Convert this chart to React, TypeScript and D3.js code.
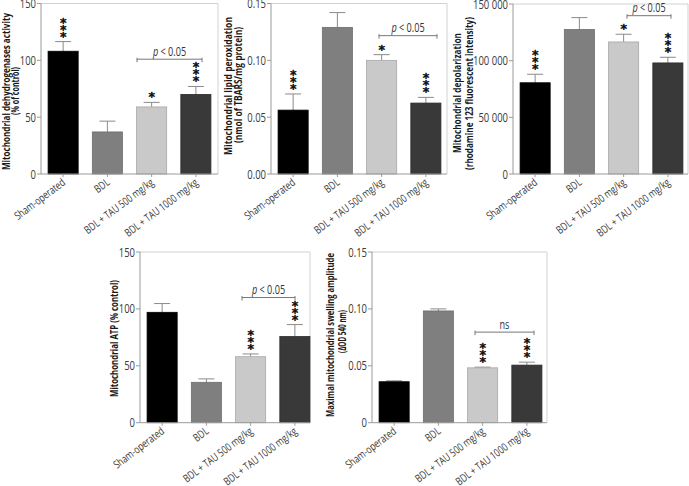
import React from "react";
import * as d3 from "d3";

const groups = ["Sham-operated", "BDL", "BDL + TAU 500 mg/kg", "BDL + TAU 1000 mg/kg"];
const barColors = ["#000000", "#7f7f7f", "#c9c9c9", "#393939"];
const barStrokes = ["#000000", "#6e6e6e", "#a8a8a8", "#2a2a2a"];

// Panel 1: dehydrogenases activity
const dehydMean = [108, 37, 59, 70];
const dehydErr = [8.5, 9.5, 4, 7];
const dehydStars = ["***", "", "*", "***"];
const dehydTicks = [0, 50, 100, 150];
// Panel 2: lipid peroxidation
const lipidMean = [0.0562, 0.129, 0.1, 0.0624];
const lipidErr = [0.0142, 0.013, 0.005, 0.005];
const lipidStars = ["***", "", "*", "***"];
const lipidTicks = [0, 0.05, 0.1, 0.15];
// Panel 3: depolarization
const depolMean = [80500, 127500, 116500, 98000];
const depolErr = [7500, 10500, 6800, 5000];
const depolStars = ["***", "", "*", "***"];
const depolTicks = [0, 50000, 100000, 150000];
// Panel 4: ATP
const atpMean = [97, 35.5, 58, 75.7];
const atpErr = [7.7, 3, 2.4, 10.5];
const atpStars = ["", "", "***", "***"];
const atpTicks = [0, 50, 100, 150];
// Panel 5: swelling
const swellMean = [0.036, 0.0982, 0.0482, 0.0506];
const swellErr = [0.0008, 0.0018, 0.0006, 0.0026];
const swellStars = ["", "", "***", "***"];
const swellTicks = [0, 0.05, 0.1, 0.15];

const fmtInt = (v: number) => (v === 0 ? "0" : String(v));
const fmt2 = (v: number) => v.toFixed(2);
const fmt2z = (v: number) => (v === 0 ? "0" : v.toFixed(2));
const fmtSpace = (v: number) => (v === 0 ? "0" : d3.format(",")(v).replace(/,/g, " "));

const FONT = "'Open Sans', 'Noto Sans', sans-serif";
const AXIS = "#9a9a9a";
const SX = 0.76;

function CText(props: { x: number; y: number; rot?: number; anchor?: string; size: number; fill?: string; weight?: string; children: React.ReactNode }) {
  const { x, y, rot = 0, anchor = "start", size, fill = "#333", weight = "normal", children } = props;
  return (
    <g transform={`translate(${x},${y}) rotate(${rot}) scale(${SX},1)`}>
      <text textAnchor={anchor} fontSize={size} fill={fill} fontWeight={weight} fontFamily={FONT}>{children}</text>
    </g>
  );
}

type Title = { text: string; x: number; y: number; len: number };

type PanelProps = {
  left: number; top: number; bottom: number; frameRight: number;
  max: number; means: number[]; errs: number[]; stars: string[]; ticks: number[];
  fmt: (v: number) => string; titles: Title[];
  bracketVal: number; bracketLabel: string; italicP: boolean; bracketX1: number; bracketX2: number;
};

function Panel(p: PanelProps) {
  const x = d3.scaleBand<string>().domain(groups).range([p.left, p.left + 177]).paddingInner(0.32).paddingOuter(0.16);
  const y = d3.scaleLinear().domain([0, p.max]).range([p.bottom, p.top]);
  const bw = x.bandwidth();
  const by = y(p.bracketVal);
  const bc = (p.bracketX1 + p.bracketX2) / 2;
  return (
    <g fontFamily={FONT}>
      {/* frame */}
      <line x1={p.left} x2={p.frameRight} y1={p.top} y2={p.top} stroke="#d2d2d2" strokeWidth={1} />
      <line x1={p.frameRight} x2={p.frameRight} y1={p.top} y2={p.bottom} stroke="#d2d2d2" strokeWidth={1} />
      {/* bars */}
      {groups.map((g, i) => {
        const cx = (x(g) as number) + bw / 2;
        const top = y(p.means[i]);
        const et = y(p.means[i] + p.errs[i]);
        return (
          <g key={g}>
            <line x1={cx} x2={cx} y1={top} y2={et} stroke="#8a8a8a" strokeWidth={1} />
            <line x1={cx - 8} x2={cx + 8} y1={et} y2={et} stroke="#8a8a8a" strokeWidth={1} />
            <rect x={x(g)} y={top} width={bw} height={p.bottom - top} fill={barColors[i]} stroke={barStrokes[i]} strokeWidth={0.8} />
            {p.stars[i] && (
              <text x={cx} y={et - 1} textAnchor="middle" fontSize={13} fill="#111" stroke="#111" strokeWidth={0.6}
                fontFamily="'DejaVu Sans', sans-serif">
                {p.stars[i].split("").map((s, k) => (
                  <tspan key={k} x={cx} dy={k === 0 ? 0 : -7}>{s}</tspan>
                ))}
              </text>
            )}
          </g>
        );
      })}
      {/* y axis */}
      <line x1={p.left} x2={p.left} y1={p.top} y2={p.bottom} stroke={AXIS} strokeWidth={1} />
      {p.ticks.map((t) => (
        <g key={t}>
          <line x1={p.left - 4} x2={p.left} y1={y(t)} y2={y(t)} stroke={AXIS} strokeWidth={1} />
          <CText x={p.left - 5} y={y(t) + 4.5} anchor="end" size={12.5} fill="#3a3a3a">{p.fmt(t)}</CText>
        </g>
      ))}
      {/* x axis */}
      <line x1={p.left} x2={p.frameRight} y1={p.bottom} y2={p.bottom} stroke={AXIS} strokeWidth={1} />
      {groups.map((g) => {
        const cx = (x(g) as number) + bw / 2;
        return (
          <g key={g}>
            <line x1={cx} x2={cx} y1={p.bottom} y2={p.bottom + 3} stroke={AXIS} strokeWidth={1} />
            <CText x={cx + 3} y={p.bottom + 10} rot={-37} anchor="end" size={11} fill="#3a3a3a">{g}</CText>
          </g>
        );
      })}
      {/* y title */}
      {p.titles.map((t, k) => (
        <text key={k} transform={`translate(${t.x},${t.y}) rotate(-90)`} textAnchor="middle" fontSize={11} fontWeight="bold"
          fill="#1a1a1a" fontFamily={FONT} textLength={t.len} lengthAdjust="spacingAndGlyphs">{t.text}</text>
      ))}
      {/* bracket */}
      <g stroke="#777" strokeWidth={1}>
        <line x1={p.bracketX1} x2={p.bracketX2} y1={by} y2={by} />
        <line x1={p.bracketX1} x2={p.bracketX1} y1={by - 1.5} y2={by + 3} />
        <line x1={p.bracketX2} x2={p.bracketX2} y1={by - 1.5} y2={by + 3} />
      </g>
      <CText x={bc} y={by - 3.5} anchor="middle" size={12} fill="#333">
        {p.italicP ? (<><tspan fontStyle="italic">p</tspan><tspan>{" < 0.05"}</tspan></>) : p.bracketLabel}
      </CText>
    </g>
  );
}

export default function App() {
  return (
    <svg width={689} height={486} style={{ position: "absolute", left: 0, top: 0, background: "#fff" }}>
      <Panel left={41} top={3.5} bottom={174} frameRight={218} max={150} means={dehydMean} errs={dehydErr} stars={dehydStars}
        ticks={dehydTicks} fmt={fmtInt}
        titles={[{ text: "Mitochondrial dehydrogenases activity", x: 9.5, y: 91.5, len: 157 }, { text: "(% of control)", x: 18.5, y: 91, len: 48 }]}
        bracketVal={101} bracketLabel="" italicP={true} bracketX1={137} bracketX2={202} />
      <Panel left={271} top={3.5} bottom={174} frameRight={447} max={0.15} means={lipidMean} errs={lipidErr} stars={lipidStars}
        ticks={lipidTicks} fmt={fmt2}
        titles={[{ text: "Mitochondrial lipid peroxidation", x: 232, y: 86, len: 138 }, { text: "(nmol of TBARS/mg protein)", x: 242, y: 85, len: 116 }]}
        bracketVal={0.1217} bracketLabel="" italicP={true} bracketX1={379} bracketX2={437} />
      <Panel left={513} top={4} bottom={174} frameRight={688} max={150000} means={depolMean} errs={depolErr} stars={depolStars}
        ticks={depolTicks} fmt={fmtSpace}
        titles={[{ text: "Mitochondrial depolarization", x: 461, y: 93, len: 120 }, { text: "(rhodamine 123 fluorescent intensity)", x: 473, y: 93.5, len: 153 }]}
        bracketVal={139700} bracketLabel="" italicP={true} bracketX1={627} bracketX2={671} />
      <Panel left={140} top={252} bottom={422.7} frameRight={310} max={150} means={atpMean} errs={atpErr} stars={atpStars}
        ticks={atpTicks} fmt={fmtInt}
        titles={[{ text: "Mitochondrial ATP (% control)", x: 118, y: 338.5, len: 117 }]}
        bracketVal={110} bracketLabel="" italicP={true} bracketX1={242} bracketX2={295} />
      <Panel left={372} top={252} bottom={422.7} frameRight={547} max={0.15} means={swellMean} errs={swellErr} stars={swellStars}
        ticks={swellTicks} fmt={fmt2z}
        titles={[{ text: "Maximal mitochondrial swelling amplitude", x: 334, y: 335, len: 164 }, { text: "(\u0394OD 540 nm)", x: 346, y: 331.5, len: 43 }]}
        bracketVal={0.0796} bracketLabel="ns" italicP={false} bracketX1={475} bracketX2={534} />
    </svg>
  );
}
